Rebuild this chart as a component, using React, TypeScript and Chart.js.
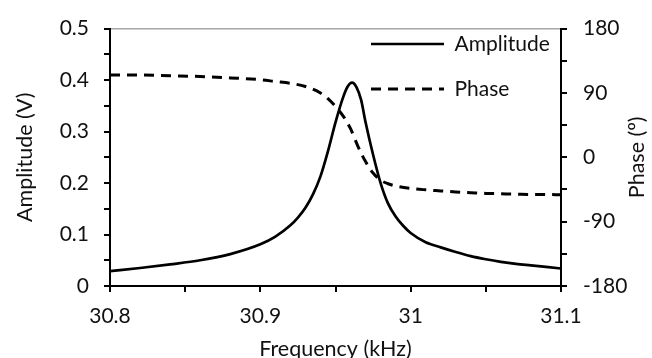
import React, { useEffect, useRef } from 'react';
import { Chart, registerables } from 'chart.js';

Chart.register(...registerables);

// ---- data ----
const ampFreq = [30.8, 30.82, 30.84, 30.86, 30.88, 30.9, 30.91, 30.92, 30.925, 30.93, 30.935, 30.94, 30.945, 30.95, 30.955, 30.958, 30.961, 30.964, 30.967, 30.97, 30.975, 30.98, 30.985, 30.99, 30.995, 31.0, 31.01, 31.02, 31.03, 31.04, 31.05, 31.06, 31.07, 31.08, 31.09, 31.1];
const ampValues = [0.029, 0.035, 0.042, 0.05, 0.062, 0.081, 0.096, 0.118, 0.133, 0.152, 0.178, 0.213, 0.262, 0.318, 0.366, 0.387, 0.395, 0.386, 0.362, 0.318, 0.255, 0.2, 0.16, 0.135, 0.117, 0.103, 0.085, 0.075, 0.066, 0.058, 0.052, 0.047, 0.043, 0.04, 0.037, 0.034];

const phaseFreq = [30.8, 30.82, 30.84, 30.86, 30.88, 30.9, 30.91, 30.92, 30.93, 30.94, 30.945, 30.95, 30.955, 30.96, 30.965, 30.97, 30.975, 30.98, 30.985, 30.99, 31.0, 31.01, 31.02, 31.03, 31.04, 31.05, 31.06, 31.07, 31.08, 31.09, 31.1];
const phaseValues = [115, 115, 114, 113, 111, 108.5, 106, 103.5, 99, 90, 82, 71, 58, 40, 15, -6, -22, -32, -37, -40, -43.5, -45.5, -47, -48.5, -49.5, -50.5, -51, -51.5, -52, -52, -52.5];

const xTickLabels = [30.8, 30.9, 31, 31.1];
const ampTickLabels = [0, 0.1, 0.2, 0.3, 0.4, 0.5];
const phaseTickLabels = [-180, -90, 0, 90, 180];

const seriesNames = ['Amplitude', 'Phase'];
const axisTitles = { x: 'Frequency (kHz)', y: 'Amplitude (V)', y1: 'Phase (º)' };

const FONT = 'Lato';
const FS = 21;
const FT = 21.5;
const TEXT = '#111';

const labelIf = (list: number[]) => (v: number | string) => {
  const n = Number(v);
  const hit = list.find((t) => Math.abs(t - n) < 1e-6);
  return hit === undefined ? '' : String(hit);
};

const legendPlacer = {
  id: 'legendPlacer',
  afterLayout(chart: any) {
    const lg = chart.legend;
    if (!lg) return;
    const w = lg.width, h = lg.height;
    lg.left = 347;
    lg.top = 9.5;
    lg.right = lg.left + w;
    lg.bottom = lg.top + h;
  },
};

// right-hand axis title, read bottom-to-top like the left one
const rightTitle = {
  id: 'rightTitle',
  afterDraw(chart: any) {
    const { ctx, chartArea } = chart;
    const s = chart.scales.y1;
    ctx.save();
    ctx.translate(s.right - 15, (chartArea.top + chartArea.bottom) / 2);
    ctx.rotate(-Math.PI / 2);
    ctx.font = `${FT}px ${FONT}`;
    ctx.textAlign = 'center';
    ctx.textBaseline = 'middle';
    ctx.fillStyle = TEXT;
    ctx.fillText(axisTitles.y1, 0, 0);
    ctx.restore();
  },
};

export default function App() {
  const ref = useRef<HTMLCanvasElement | null>(null);

  useEffect(() => {
    if (!ref.current) return;
    const chart = new Chart(ref.current, {
      type: 'line',
      data: {
        datasets: [
          {
            label: seriesNames[0],
            data: ampFreq.map((f, i) => ({ x: f, y: ampValues[i] })),
            borderColor: '#000',
            backgroundColor: '#000',
            borderWidth: 2.7,
            pointRadius: 0,
            cubicInterpolationMode: 'monotone',
            yAxisID: 'y',
            xAxisID: 'x',
          },
          {
            label: seriesNames[1],
            data: phaseFreq.map((f, i) => ({ x: f, y: phaseValues[i] })),
            borderColor: '#000',
            backgroundColor: '#000',
            borderWidth: 3,
            borderDash: [10, 7],
            pointRadius: 0,
            cubicInterpolationMode: 'monotone',
            yAxisID: 'y1',
            xAxisID: 'x',
          },
        ],
      },
      options: {
        responsive: false,
        animation: false,
        devicePixelRatio: 1,
        layout: { padding: { top: 20, left: 0, right: 0, bottom: 0 } },
        plugins: {
          tooltip: { enabled: false },
          legend: {
            display: true,
            position: 'chartArea',
            align: 'start',
            labels: {
              usePointStyle: true,
              pointStyle: 'line',
              pointStyleWidth: 73,
              boxWidth: 73,
              padding: 24,
              color: TEXT,
              font: { family: FONT, size: FS },
              generateLabels: (chart: any) =>
                Chart.defaults.plugins.legend.labels.generateLabels(chart).map((it: any, i: number) => ({
                  ...it,
                  pointStyle: 'line',
                  lineDash: chart.data.datasets[i].borderDash || [],
                  lineWidth: chart.data.datasets[i].borderWidth,
                  strokeStyle: '#000',
                })),
            },
          },
        },
        scales: {
          x: {
            type: 'linear',
            position: 'bottom',
            min: 30.8,
            max: 31.1,
            afterFit: (s: any) => { s.height = 72; },
            ticks: {
              stepSize: 0.05,
              autoSkip: false,
              maxRotation: 0,
              padding: 12,
              color: TEXT,
              font: { family: FONT, size: FS },
              callback: labelIf(xTickLabels),
            },
            grid: { drawOnChartArea: false, color: '#000', lineWidth: 2, tickLength: 6 },
            border: { color: '#000', width: 2 },
            title: { display: true, text: axisTitles.x, color: TEXT, font: { family: FONT, size: FT }, padding: { top: 0, bottom: -4 } },
          },
          xTop: {
            type: 'linear',
            position: 'top',
            min: 30.8,
            max: 31.1,
            afterFit: (s: any) => { s.height = 0; },
            ticks: { display: false },
            grid: { display: false },
            border: { color: '#a6a6a6', width: 1.5 },
          },
          y: {
            type: 'linear',
            position: 'left',
            min: 0,
            max: 0.5,
            afterFit: (s: any) => { s.width = 110; },
            ticks: {
              stepSize: 0.05,
              autoSkip: false,
              padding: 15,
              color: TEXT,
              font: { family: FONT, size: FS },
              callback: labelIf(ampTickLabels),
            },
            grid: { drawOnChartArea: false, color: '#000', lineWidth: 2, tickLength: 6 },
            border: { color: '#000', width: 2 },
            title: { display: true, text: axisTitles.y, color: TEXT, font: { family: FONT, size: FT }, padding: { top: 12, bottom: 0 } },
          },
          y1: {
            type: 'linear',
            position: 'right',
            min: -180,
            max: 180,
            afterFit: (s: any) => { s.width = 91; },
            ticks: {
              stepSize: 45,
              autoSkip: false,
              padding: 16,
              color: TEXT,
              font: { family: FONT, size: FS },
              callback: labelIf(phaseTickLabels),
            },
            grid: { drawOnChartArea: false, color: '#000', lineWidth: 2, tickLength: 6 },
            border: { color: '#000', width: 2 },
            title: { display: false },
          },
        },
      },
      plugins: [legendPlacer, rightTitle],
    } as any);
    return () => chart.destroy();
  }, []);

  return (
    <div style={{ position: 'absolute', left: 0, top: 0, width: 652, height: 358, background: '#fff' }}>
      <canvas ref={ref} width={652} height={358} style={{ display: 'block' }} />
    </div>
  );
}
